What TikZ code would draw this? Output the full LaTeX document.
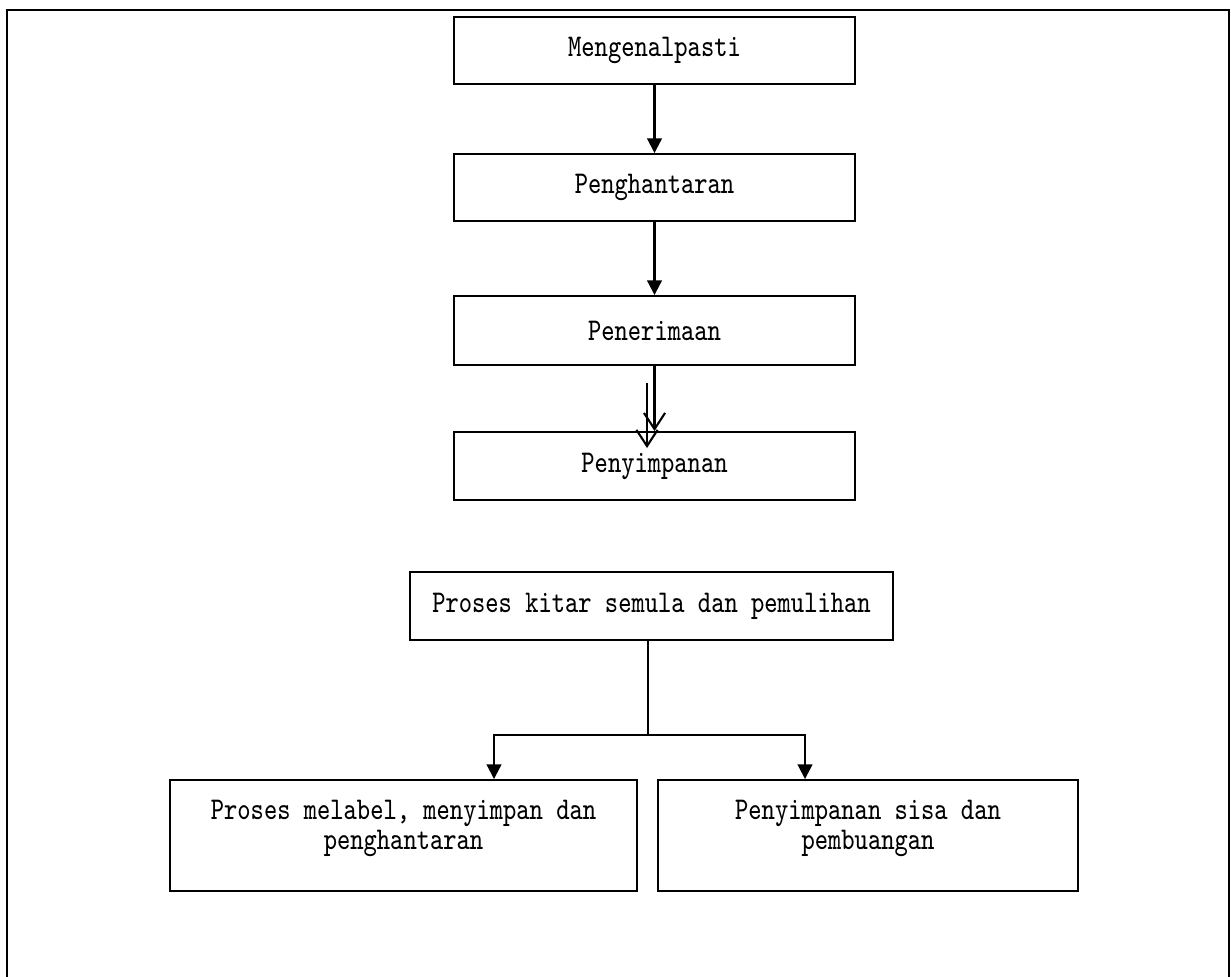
\documentclass[tikz,border=0pt]{standalone}
\usepackage{fontspec}
\newfontfamily\boxfont[FakeStretch=0.80]{Latin Modern Mono}
\usetikzlibrary{arrows.meta}

\begin{document}
\begin{tikzpicture}[
  kotak/.style={draw,line width=0.55pt,rectangle,inner sep=0pt,align=center,
    font=\boxfont\fontsize{9}{8.6}\selectfont},
  anak/.style={line width=0.6pt,-{Triangle[length=4.2pt,width=4.2pt]}},
  terbuka/.style={line width=0.6pt,-{Straight Barb[length=4.6pt,width=6pt,line width=0.6pt]}}]
\useasboundingbox (0,0) rectangle (12.31,-9.76);
\draw[line width=0.6pt] (0.07,-9.9) -- (0.07,-0.10) -- (12.29,-0.10) -- (12.29,-9.9);
\node[kotak,minimum width=4.01cm,minimum height=0.67cm] (mengenal) at (6.545,-0.505) {Mengenalpasti};
\node[kotak,minimum width=4.01cm,minimum height=0.67cm] (hantar) at (6.545,-1.875) {Penghantaran};
\node[kotak,minimum width=4.01cm,minimum height=0.69cm] (terima) at (6.545,-3.305) {Penerimaan};
\node[kotak,minimum width=4.01cm,minimum height=0.68cm] (simpan) at (6.545,-4.66) {Penyimpanan};
\node[kotak,minimum width=4.83cm,minimum height=0.68cm] (kitar) at (6.515,-6.06) {Proses kitar semula dan pemulihan};
\node[kotak,minimum width=4.67cm,minimum height=1.11cm,text depth=6pt] (label) at (4.035,-8.355) {Proses melabel, menyimpan dan\\penghantaran};
\node[kotak,minimum width=4.20cm,minimum height=1.11cm,text depth=6pt] (sisa) at (8.68,-8.355) {Penyimpanan sisa dan\\pembuangan};
\coordinate (dua1) at (6.47,-3.83);
\coordinate (dua2) at (6.47,-4.48);
\coordinate (cabang) at (6.48,-7.35);
\coordinate (kiri) at (4.94,-7.35);
\coordinate (kanan) at (8.05,-7.35);
\draw[anak] (mengenal.south) -- (hantar.north);
\draw[anak] (hantar.south) -- (terima.north);
\draw[terbuka] (terima.south) -- (simpan.north);
\draw[terbuka] (dua1) -- (dua2);
\draw[line width=0.6pt] (cabang |- kitar.south) -- (cabang);
\draw[anak] (cabang) -- (kiri) -- (kiri |- label.north);
\draw[anak] (cabang) -- (kanan) -- (kanan |- sisa.north);
\end{tikzpicture}
\end{document}
